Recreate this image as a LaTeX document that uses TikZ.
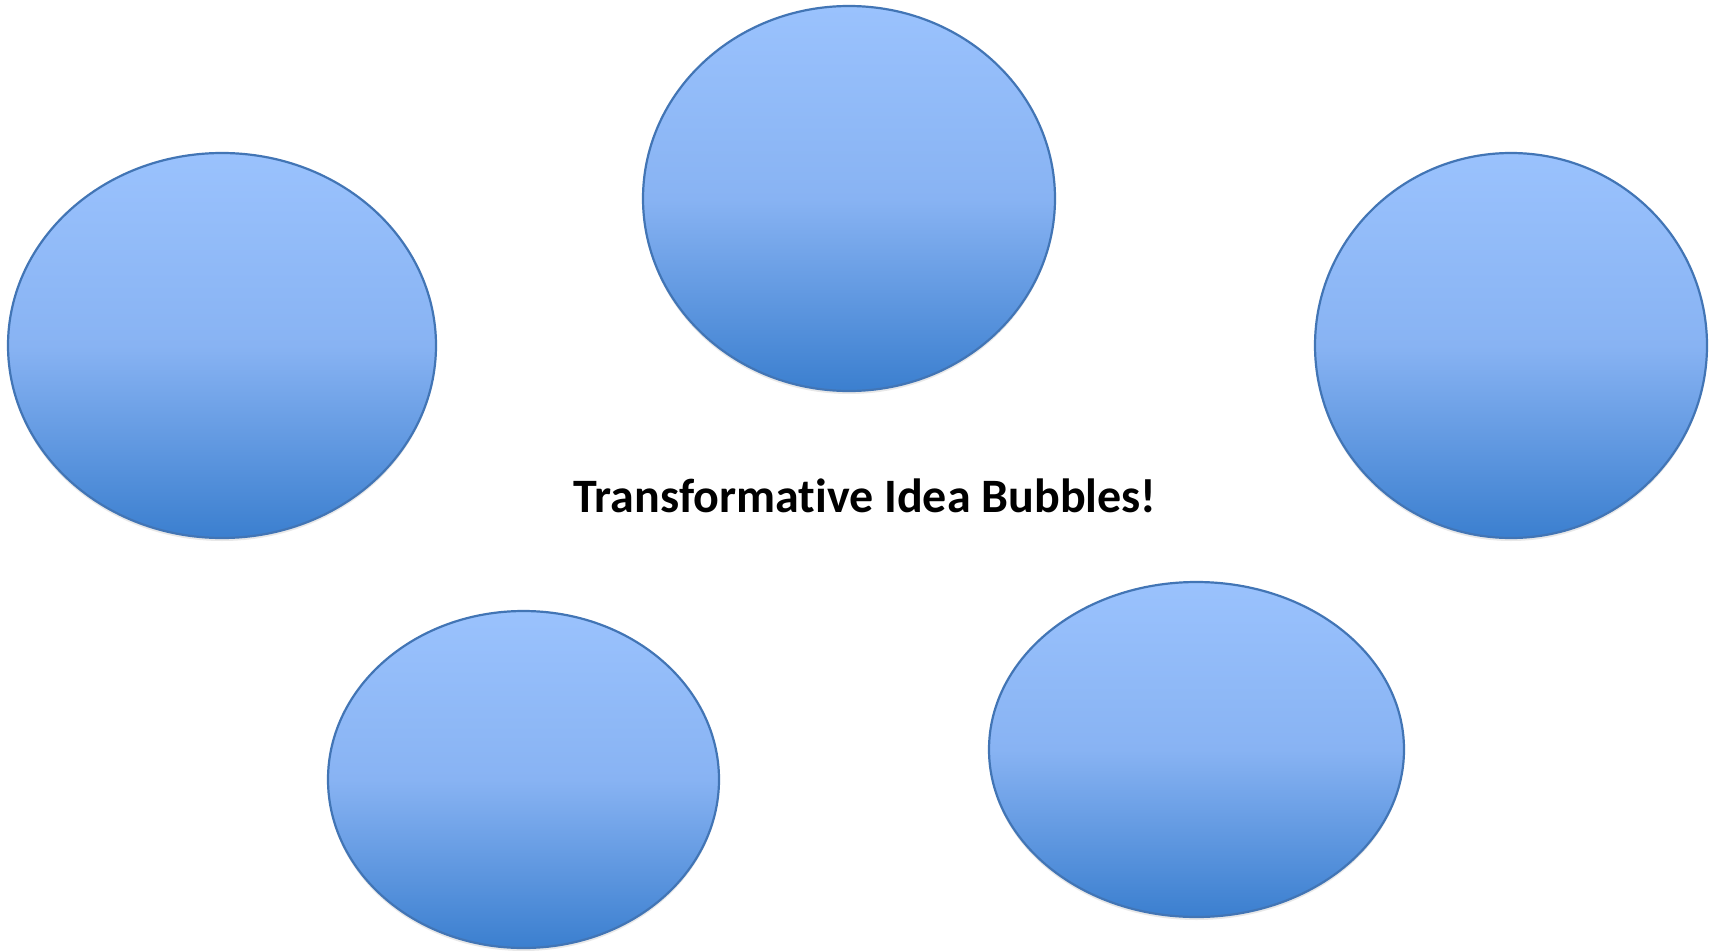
\documentclass[tikz,border=0pt]{standalone}
\usepackage{fontspec}
\setmainfont{Carlito}[Ligatures=NoCommon]
\usetikzlibrary{shapes.geometric,shadows}
\definecolor{bubtop}{HTML}{9AC2FD}
\definecolor{bubmid}{HTML}{88B3F3}
\definecolor{bubbot}{HTML}{3B7FCF}
\definecolor{bubline}{HTML}{4275B5}
\tikzset{
  bubble/.style={ellipse, draw=bubline, line width=2.2pt, inner sep=0pt,
    top color=bubtop, bottom color=bubbot, middle color=bubmid,
    drop shadow={opacity=0.18, shadow xshift=0pt, shadow yshift=-3pt}},
  title/.style={font=\bfseries\fontsize{48}{56}\selectfont, text=black}
}
\begin{document}
\begin{tikzpicture}[x=1pt,y=-1pt]
\useasboundingbox (0,0) rectangle (1723,950);
\fill[white] (0,0) rectangle (1723,950);
\node[bubble, minimum width=412pt, minimum height=385pt] (top) at (849,198.5) {};
\node[bubble, minimum width=428pt, minimum height=385pt] (left) at (222,345.5) {};
\node[bubble, minimum width=392pt, minimum height=385pt] (right) at (1511,345.5) {};
\node[bubble, minimum width=391pt, minimum height=337pt] (botleft) at (523.5,779.5) {};
\node[bubble, minimum width=415pt, minimum height=335pt] (botright) at (1196.5,749.5) {};
\node[title] (label) at (865,496) {Transformative Idea Bubbles!};
\end{tikzpicture}
\end{document}
